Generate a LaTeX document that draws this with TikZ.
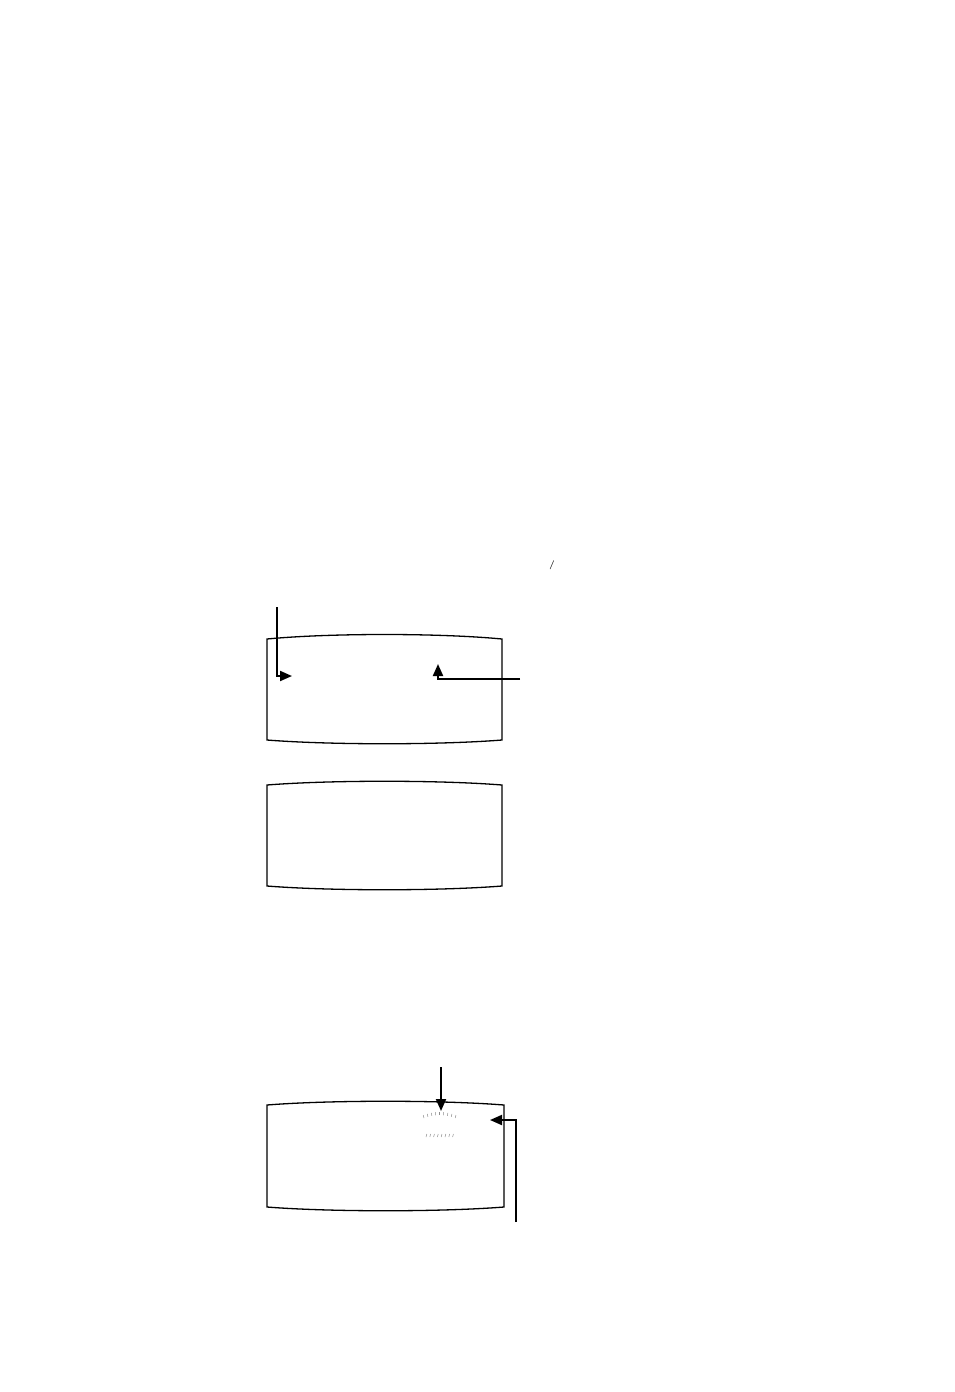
\documentclass[tikz,border=0pt]{standalone}
\usetikzlibrary{arrows.meta}
\begin{document}
\begin{tikzpicture}[x=1pt,y=-1pt,
  panel/.style={draw=black,line width=1.3pt},
  pointer/.style={draw=black,line width=2pt,-{Triangle[length=12pt,width=10pt]}},
  tick/.style={draw=black!45,line width=0.5pt}]
\useasboundingbox (0,0) rectangle (954,1392);
% panels
\draw[panel] (267,639) .. controls (330,633) and (439,633) .. (502,639) -- (502,740)
  .. controls (439,745) and (330,745) .. (267,740) -- cycle;
\draw[panel] (267,785) .. controls (330,780) and (439,780) .. (502,785) -- (502,886)
  .. controls (439,891) and (330,891) .. (267,886) -- cycle;
\draw[panel] (267,1105) .. controls (330,1100) and (441,1100) .. (504,1105) -- (504,1207)
  .. controls (441,1212) and (330,1212) .. (267,1207) -- cycle;
% pointer ends
\coordinate (a1s) at (277,607);
\coordinate (a1c) at (277,676);
\coordinate (a1t) at (292,676);
\coordinate (a2s) at (520,679);
\coordinate (a2c) at (438,679);
\coordinate (a2t) at (438,664);
\coordinate (a3s) at (441,1067);
\coordinate (a3t) at (441,1111);
\coordinate (a4s) at (516,1222);
\coordinate (a4c) at (516,1120);
\coordinate (a4t) at (490,1120);
\draw[pointer] (a1s) -- (a1c) -- (a1t);
\draw[pointer] (a2s) -- (a2c) -- (a2t);
\draw[pointer] (a3s) -- (a3t);
\draw[pointer] (a4s) -- (a4c) -- (a4t);
% faint tick marks
\foreach \i in {0,...,8} {
  \pgfmathsetmacro{\xx}{424+\i*3.9}
  \pgfmathsetmacro{\yy}{1118-3*sin(\i*22.5)}
  \pgfmathsetmacro{\dx}{0.8*(\i-4)/4}
  \draw[tick] (\xx,\yy) -- ++(\dx,-3);
}
\foreach \i in {0,...,7} {
  \pgfmathsetmacro{\xx}{426+\i*3.8}
  \draw[tick] (\xx,1137) -- ++(0.8,-3);
}
\node[inner sep=0pt,font=\small\bfseries] (sl) at (552,565) {/};
\end{tikzpicture}
\end{document}
